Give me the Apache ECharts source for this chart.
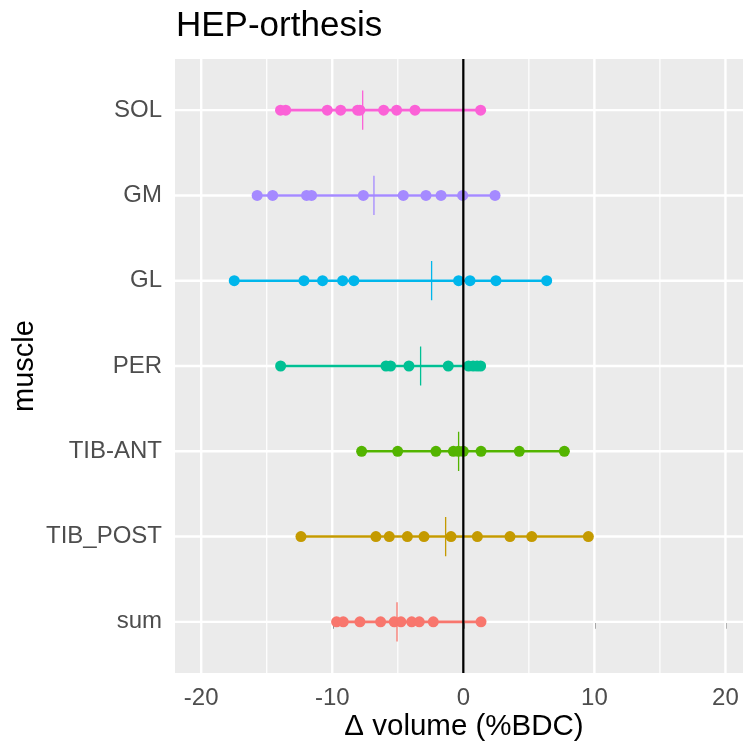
<!DOCTYPE html>
<html>
<head>
<meta charset="utf-8">
<script src="https://cdn.jsdelivr.net/npm/echarts@6/dist/echarts.min.js"></script>
<style>
  body { margin: 0; background: #fff; }
  #main { width: 743px; height: 746px; }
</style>
</head>
<body>
<div id="main"></div>
<script>
  // muscles, bottom to top
  const categories = ['sum', 'TIB_POST', 'TIB-ANT', 'PER', 'GL', 'GM', 'SOL'];
  const colors = ['#F8766D', '#C49A00', '#53B400', '#00C094', '#00B6EB', '#A58AFF', '#FB61D7'];

  // Δ volume (%BDC) per subject
  const sumVals = [-9.67, -9.16, -7.89, -6.31, -5.27, -4.76, -3.94, -3.36, -2.29, 1.35];
  const tibPostVals = [-12.39, -6.67, -5.65, -4.27, -3.00, -0.94, 1.07, 3.56, 5.22, 9.54];
  const tibAntVals = [-7.76, -5.01, -2.09, -0.76, -0.38, 0, 1.35, 4.27, 7.71];
  const perVals = [-13.94, -5.90, -5.55, -4.15, -1.15, 0.40, 0.75, 1.05, 1.32];
  const glVals = [-17.48, -12.16, -10.74, -9.21, -8.35, -0.36, 0.51, 2.49, 6.36];
  const gmVals = [-15.73, -14.55, -11.96, -11.58, -7.63, -4.58, -2.85, -1.70, -0.05, 2.42];
  const solVals = [-13.95, -13.55, -10.38, -9.36, -8.07, -7.89, -6.08, -5.09, -3.69, 1.32];
  const values = [sumVals, tibPostVals, tibAntVals, perVals, glVals, gmVals, solVals];

  // vertical marks (mean) per muscle
  const means = [-5.06, -1.35, -0.36, -3.26, -2.42, -6.82, -7.68];

  const xTicks = [-20, -10, 0, 10, 20];
  const xMinor = [-15, -5, 5, 15];
  const yTicks = [0, 1, 2, 3, 4, 5, 6];

  // the panel runs off the right edge of the picture
  const xMin = -22, xMax = 21.34;

  const font = 'Liberation Sans, Arial, sans-serif';
  const chart = echarts.init(document.getElementById('main'));

  const series = [];

  // panel grid lines, drawn as plain segments under the data
  function gridLine(points, width) {
    series.push({
      type: 'line',
      data: points,
      symbol: 'none',
      silent: true,
      lineStyle: { color: '#fff', width: width },
      z: 1
    });
  }
  xMinor.forEach(v => gridLine([[v, -0.6], [v, 6.6]], 1.2));
  xTicks.forEach(v => gridLine([[v, -0.6], [v, 6.6]], 2.4));
  yTicks.forEach(v => gridLine([[xMin, v], [xMax, v]], 2.4));

  categories.forEach((name, i) => {
    const vals = values[i];
    // range line
    series.push({
      type: 'line',
      name: name,
      data: [[Math.min(...vals), i], [Math.max(...vals), i]],
      symbol: 'none',
      lineStyle: { color: colors[i], width: 2.6 },
      z: 3
    });
    // subjects
    series.push({
      type: 'scatter',
      name: name,
      data: vals.map(v => [v, i]),
      symbolSize: 11,
      itemStyle: { color: colors[i], opacity: 1 },
      z: 4
    });
    // mean tick
    series.push({
      type: 'line',
      name: name,
      data: [[means[i], i - 0.23], [means[i], i + 0.23]],
      symbol: 'none',
      lineStyle: { color: colors[i], width: 1.3 },
      z: 5
    });
  });

  // zero line
  series.push({
    type: 'line',
    data: [[0, -0.6], [0, 6.6]],
    symbol: 'none',
    lineStyle: { color: '#000', width: 2.3 },
    z: 6
  });

  chart.setOption({
    animation: false,
    textStyle: { fontFamily: font },
    grid: {
      left: 175, top: 59, right: 0, height: 614,
      show: true, backgroundColor: '#EBEBEB', borderWidth: 0
    },
    xAxis: {
      type: 'value',
      min: xMin,
      max: xMax,
      axisLine: { show: false },
      splitLine: { show: false },
      axisTick: { show: true, customValues: xTicks, length: 7, lineStyle: { color: '#333', width: 2 } },
      axisLabel: { customValues: xTicks, color: '#4D4D4D', fontSize: 24, margin: 13, fontFamily: font }
    },
    yAxis: {
      type: 'value',
      min: -0.6,
      max: 6.6,
      axisLine: { show: false },
      splitLine: { show: false },
      axisTick: { show: true, customValues: yTicks, length: 7, lineStyle: { color: '#333', width: 2 } },
      axisLabel: {
        customValues: yTicks,
        formatter: v => categories[Math.round(v)],
        color: '#4D4D4D', fontSize: 24, margin: 13, fontFamily: font,
        padding: [3, 0, 0, 0]
      }
    },
    graphic: [
      {
        type: 'text', x: 176, y: 26,
        style: { text: 'HEP-orthesis', fontSize: 35, fill: '#000', fontFamily: font, textVerticalAlign: 'middle' }
      },
      {
        type: 'text', x: 464, y: 727,
        style: { text: 'Δ volume (%BDC)', fontSize: 29.5, fill: '#000', fontFamily: font, textAlign: 'center', textVerticalAlign: 'middle' }
      },
      {
        type: 'text', x: 25, y: 366, rotation: Math.PI / 2,
        style: { text: 'muscle', fontSize: 29, fill: '#000', fontFamily: font, textAlign: 'center', textVerticalAlign: 'middle' }
      }
    ],
    series: series
  });
</script>
</body>
</html>
